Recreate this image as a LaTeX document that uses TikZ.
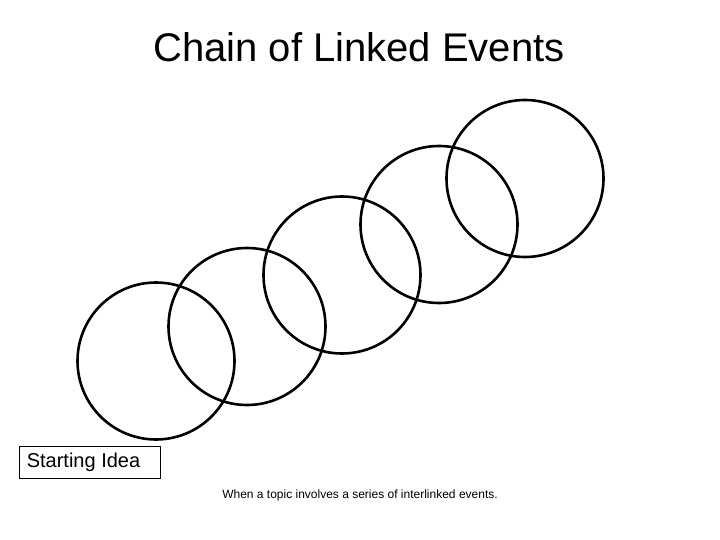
\documentclass[tikz,border=0pt]{standalone}
\usepackage{fontspec}
\setmainfont{Liberation Sans}
\begin{document}
\begin{tikzpicture}[x=1pt,y=-1pt,
  ring/.style={circle,draw=black,line width=2.6pt,minimum size=157pt,inner sep=0pt},
  ideabox/.style={draw=black,line width=0.8pt,minimum width=141pt,minimum height=32pt,inner sep=0pt}]
\useasboundingbox (0,0) rectangle (720,540);
\node[font=\fontsize{40}{46}\selectfont] (title) at (359,47) {Chain of Linked Events};
\node[ring] (c1) at (156,361) {};
\node[ring] (c2) at (247,326.5) {};
\node[ring] (c3) at (342,275) {};
\node[ring] (c4) at (439,224.5) {};
\node[ring] (c5) at (525,178.5) {};
\node[ideabox,font=\fontsize{20}{24}\selectfont] (start) at (90,462) {\hspace*{-13pt}Starting Idea};
\node[font=\fontsize{12}{14}\selectfont] (note) at (360,495) {When a topic involves a series of interlinked events.};
\end{tikzpicture}
\end{document}
